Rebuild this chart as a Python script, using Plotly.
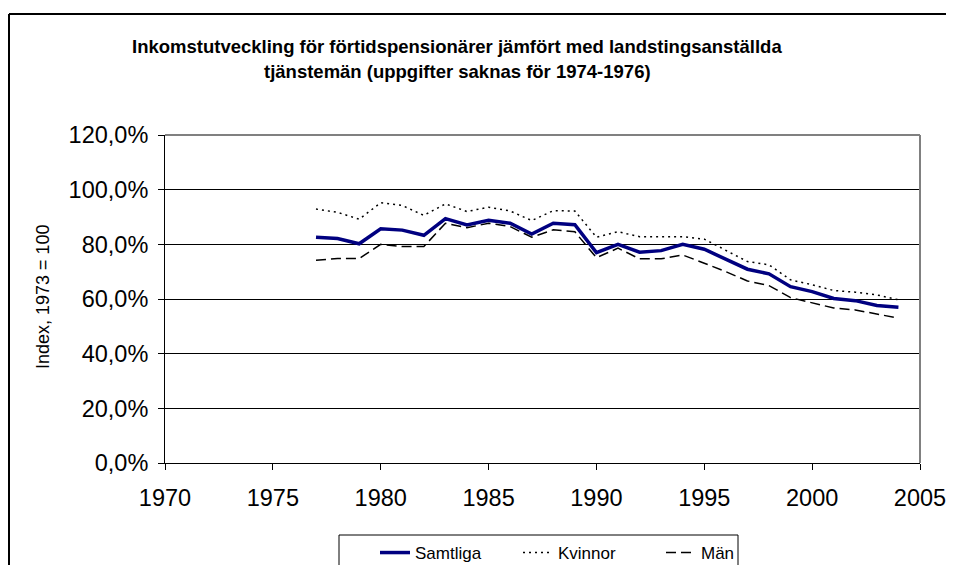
import plotly.graph_objects as go

years = list(range(1977, 2005))
samtliga = [82.6, 82.1, 80.2, 85.7, 85.2, 83.3, 89.4, 87.1, 88.8, 87.7, 83.8, 87.7, 87.2, 77.0,
            80.0, 77.1, 77.7, 80.0, 78.2, 74.6, 70.9, 69.2, 64.5, 62.7, 60.2, 59.4, 57.6, 57.0]
kvinnor = [92.9, 91.7, 89.2, 95.2, 94.2, 90.6, 94.8, 92.0, 93.6, 92.2, 88.7, 92.3, 92.2, 82.6,
           84.6, 82.8, 82.8, 82.8, 81.9, 77.7, 73.7, 72.5, 67.0, 65.2, 63.1, 62.5, 61.5, 59.7]
man = [74.2, 74.8, 74.8, 80.0, 79.2, 79.2, 87.7, 86.1, 87.7, 86.5, 82.6, 85.3, 84.6, 75.1,
       78.6, 74.7, 74.7, 76.1, 73.1, 70.0, 66.6, 64.9, 60.5, 58.5, 56.7, 56.0, 54.5, 53.0]

title_line1 = "Inkomstutveckling för förtidspensionärer jämfört med landstingsanställda"
title_line2 = "tjänstemän (uppgifter saknas för 1974-1976)"
y_title = "Index, 1973 = 100"

# page body has an 8px margin; figure sized to fit the window without overflow
OFF = 8
W, H = 938, 557
L, T = 165 - OFF, 135 - OFF
R = W - (920 - OFF)
B = H - (463 - OFF)
pw, ph = W - L - R, H - T - B


def px(x):
    return (x - OFF - L) / pw


def py(y):
    return (H - B - (y - OFF)) / ph


FONT = "Liberation Sans, Arial, sans-serif"

fig = go.Figure()
fig.add_trace(go.Scatter(x=years, y=[v / 100 for v in samtliga], name="Samtliga", mode="lines",
                         line=dict(color="#000080", width=3.5)))
fig.add_trace(go.Scatter(x=years, y=[v / 100 for v in kvinnor], name="Kvinnor", mode="lines",
                         line=dict(color="black", width=1.5, dash="2px,4px")))
fig.add_trace(go.Scatter(x=years, y=[v / 100 for v in man], name="Män", mode="lines",
                         line=dict(color="black", width=1.5, dash="10px,5px")))

fig.update_layout(
    width=W, height=H,
    margin=dict(l=L, r=R, t=T, b=B, autoexpand=False),
    paper_bgcolor="white", plot_bgcolor="white",
    separators=",.",
    font=dict(family=FONT, color="black"),
    showlegend=True,
    legend=dict(orientation="h", xref="container", yref="container",
                x=(375 - OFF) / W, y=1 - (535 - OFF) / H, xanchor="left", yanchor="top",
                font=dict(size=17, family=FONT), bgcolor="rgba(0,0,0,0)", borderwidth=0,
                entrywidth=98),
    xaxis=dict(range=[1970, 2005], dtick=5, tick0=1970, showgrid=False, zeroline=False,
               showline=True, linecolor="black", linewidth=1, ticks="outside", ticklen=6,
               tickcolor="black", tickfont=dict(size=23.5, family=FONT), ticklabelstandoff=8,
               ticklabeloverflow="allow"),
    yaxis=dict(range=[0, 1.2], dtick=0.2, tick0=0, tickformat=".1%", showgrid=True,
               gridcolor="black", gridwidth=1, zeroline=False, showline=True,
               linecolor="black", linewidth=1, ticks="outside", ticklen=6, tickcolor="black",
               tickfont=dict(size=23.5, family=FONT), ticklabelstandoff=5),
    annotations=[
        dict(text="<b>" + title_line1 + "</b>", xref="paper", yref="paper", x=px(457), y=py(46),
             xanchor="center", yanchor="middle", showarrow=False, font=dict(size=18.5, family=FONT)),
        dict(text="<b>" + title_line2 + "</b>", xref="paper", yref="paper", x=px(457), y=py(72),
             xanchor="center", yanchor="middle", showarrow=False, font=dict(size=18.5, family=FONT)),
        dict(text=y_title, xref="paper", yref="paper", x=px(43), y=py(297), textangle=-90,
             xanchor="center", yanchor="middle", showarrow=False, font=dict(size=18, family=FONT)),
    ],
    shapes=[
        # outer chart-area frame (top and left edges visible)
        dict(type="line", xref="paper", yref="paper", x0=px(9), x1=px(960), y0=py(14), y1=py(14),
             line=dict(color="black", width=2), layer="below"),
        dict(type="line", xref="paper", yref="paper", x0=px(9), x1=px(9), y0=py(14), y1=py(600),
             line=dict(color="black", width=2), layer="below"),
        # plot-area border (top and right, grey)
        dict(type="line", xref="paper", yref="paper", x0=0, x1=1, y0=1, y1=1,
             line=dict(color="#808080", width=2), layer="above"),
        dict(type="line", xref="paper", yref="paper", x0=1, x1=1, y0=0, y1=1,
             line=dict(color="#808080", width=2), layer="above"),
        # legend box
        dict(type="rect", xref="paper", yref="paper", x0=px(339), x1=px(738), y0=py(535), y1=py(600),
             line=dict(color="black", width=1), fillcolor="rgba(0,0,0,0)", layer="below"),
    ],
)

fig.write_html("out.html")
